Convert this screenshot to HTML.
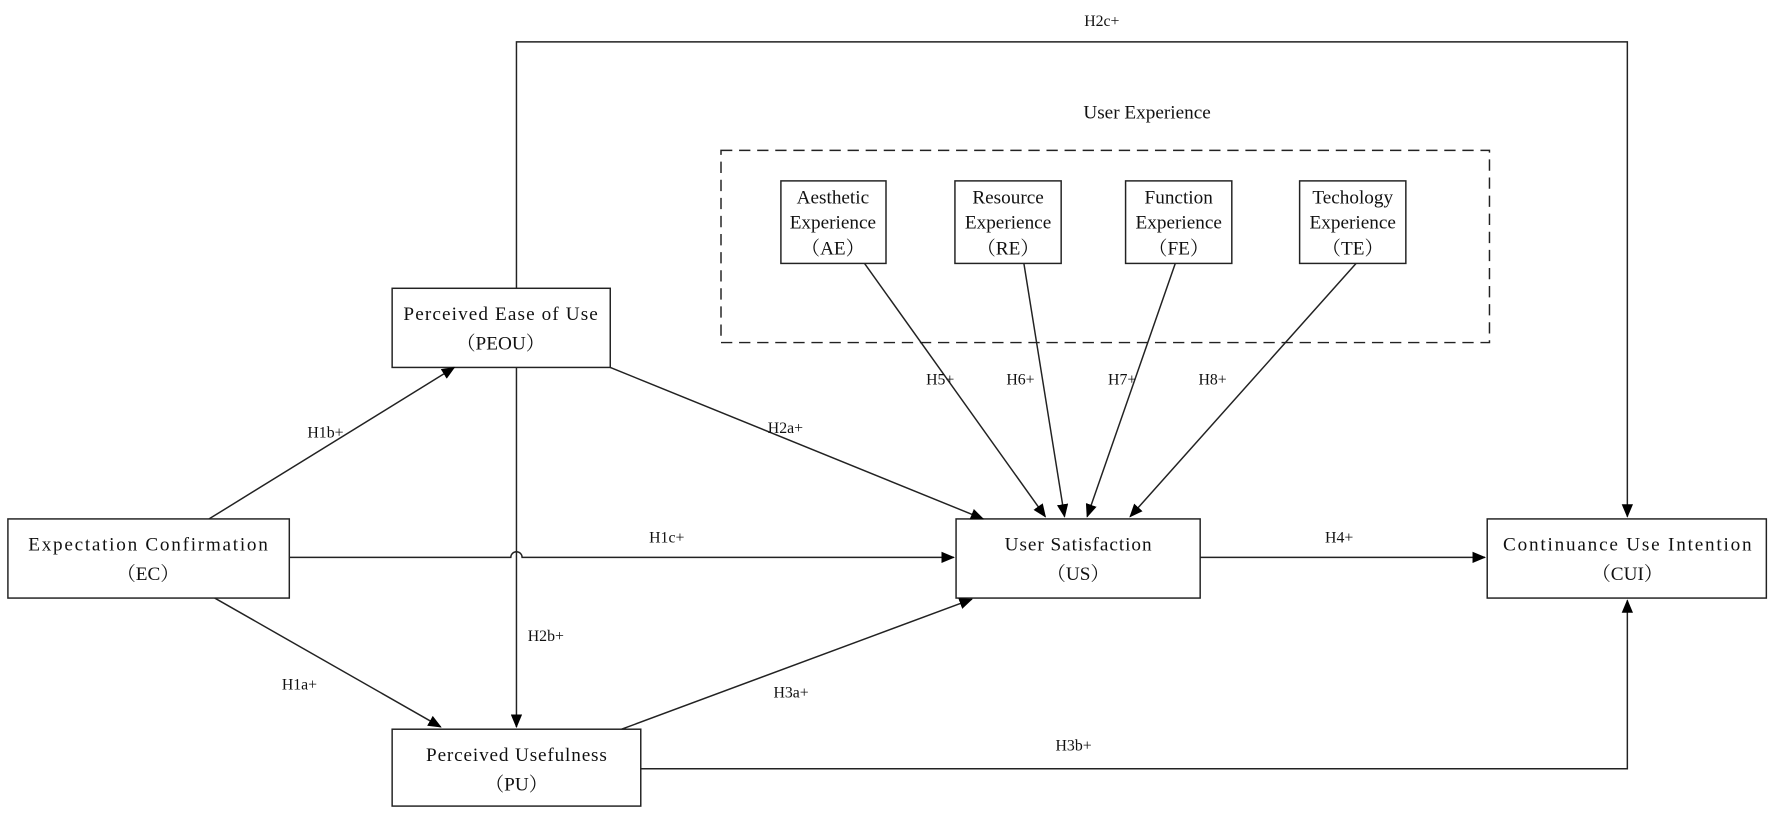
<!DOCTYPE html>
<html><head><meta charset="utf-8"><style>html,body{margin:0;padding:0;background:#fff}svg{display:block}</style></head>
<body>
<svg width="1772" height="814" viewBox="0 0 1568 720" preserveAspectRatio="none" xmlns="http://www.w3.org/2000/svg" font-family="'Liberation Serif','Noto Serif CJK SC',serif" font-size="17" fill="#111">
<defs><marker id="a" markerWidth="12" markerHeight="10" refX="11" refY="5" orient="auto" markerUnits="userSpaceOnUse"><path d="M0,0 L12,5 L0,10 z" fill="#000"/></marker></defs>
<g stroke="#222" stroke-width="1.3" fill="none">
<rect x="7" y="459" width="249" height="70"/>
<rect x="347" y="255" width="193" height="70"/>
<rect x="347" y="645" width="220" height="68"/>
<rect x="846" y="459" width="216" height="70"/>
<rect x="1316" y="459" width="247" height="70"/>
<rect x="691" y="160" width="93" height="73"/>
<rect x="845" y="160" width="94" height="73"/>
<rect x="996" y="160" width="94" height="73"/>
<rect x="1150" y="160" width="94" height="73"/>
<rect x="638" y="133" width="680" height="170" stroke-dasharray="10,6"/>
<path d="M457,255 V37 H1440 V457" marker-end="url(#a)"/>
<path d="M185,459 L402,325" marker-end="url(#a)"/>
<path d="M190,529 L390,643" marker-end="url(#a)"/>
<path d="M457,325 V643" marker-end="url(#a)"/>
<path d="M256,493 H452 A5,5 0 0 1 462,493 H844" marker-end="url(#a)"/>
<path d="M540,325 L870,459" marker-end="url(#a)"/>
<path d="M550,645 L860,530" marker-end="url(#a)"/>
<path d="M567,680 H1440 V531" marker-end="url(#a)"/>
<path d="M1062,493 H1314" marker-end="url(#a)"/>
<path d="M765,233 L925,457" marker-end="url(#a)"/>
<path d="M906,233 L942,457" marker-end="url(#a)"/>
<path d="M1040,233 L962,457" marker-end="url(#a)"/>
<path d="M1200,233 L1000,457" marker-end="url(#a)"/>
</g>
<g text-anchor="middle">
<text x="131" y="487" textLength="212">Expectation Confirmation</text><text x="131" y="513">（EC）</text>
<text x="443" y="283" textLength="172">Perceived Ease of Use</text><text x="443" y="309">（PEOU）</text>
<text x="457" y="673" textLength="160">Perceived Usefulness</text><text x="457" y="699">（PU）</text>
<text x="954" y="487" textLength="130">User Satisfaction</text><text x="954" y="513">（US）</text>
<text x="1440" y="487" textLength="220">Continuance Use Intention</text><text x="1440" y="513">（CUI）</text>
<text x="737" y="180">Aesthetic</text><text x="737" y="202">Experience</text><text x="737" y="225">（AE）</text>
<text x="892" y="180">Resource</text><text x="892" y="202">Experience</text><text x="892" y="225">（RE）</text>
<text x="1043" y="180">Function</text><text x="1043" y="202">Experience</text><text x="1043" y="225">（FE）</text>
<text x="1197" y="180">Techology</text><text x="1197" y="202">Experience</text><text x="1197" y="225">（TE）</text>
<text x="1015" y="105">User Experience</text>
</g>
<g font-size="14" text-anchor="middle">
<text x="975" y="23">H2c+</text>
<text x="288" y="387">H1b+</text>
<text x="265" y="610">H1a+</text>
<text x="483" y="567">H2b+</text>
<text x="590" y="480">H1c+</text>
<text x="695" y="383">H2a+</text>
<text x="700" y="617">H3a+</text>
<text x="950" y="664">H3b+</text>
<text x="1185" y="480">H4+</text>
<text x="832" y="340">H5+</text>
<text x="903" y="340">H6+</text>
<text x="993" y="340">H7+</text>
<text x="1073" y="340">H8+</text>
</g>
</svg>
</body></html>
